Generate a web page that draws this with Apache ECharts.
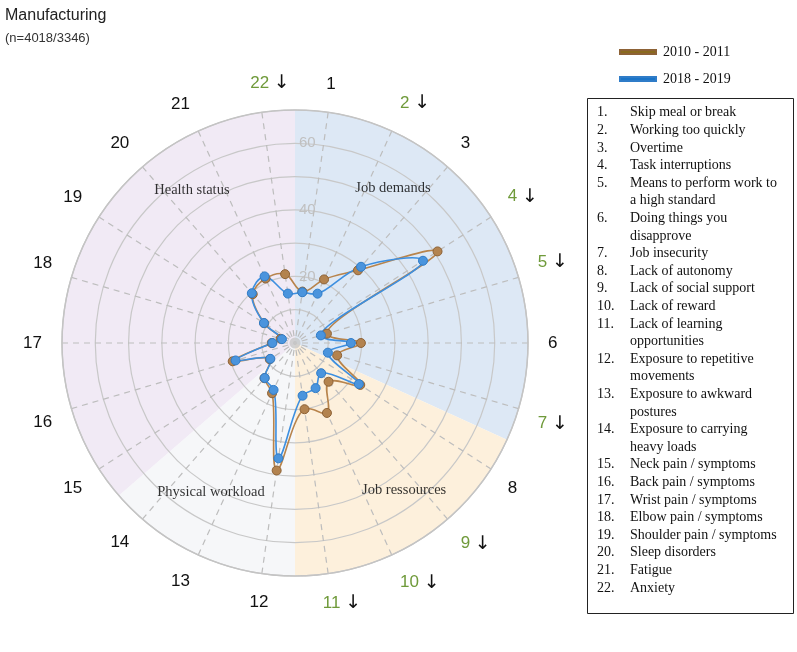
<!DOCTYPE html>
<html>
<head>
<meta charset="utf-8">
<script src="https://cdn.jsdelivr.net/npm/echarts@6/dist/echarts.min.js"></script>
<style>
html, body { margin: 0; padding: 0; background: #fff; }
#chart { width: 797px; height: 652px; }
</style>
</head>
<body>
<div id="chart"></div>
<script>
// axis categories (numbered items, clockwise from the top)
const categories = ['1', '2', '3', '4', '5', '6', '7', '8', '9', '10', '11',
  '12', '13', '14', '15', '16', '17', '18', '19', '20', '21', '22']
// items flagged with a significant decrease (green number + arrow)
const decreased = ['2', '4', '5', '7', '9', '10', '11', '22']
const itemNames = [
  'Skip meal or break',
  'Working too quickly',
  'Overtime',
  'Task interruptions',
  'Means to perform work to\na high standard',
  'Doing things you\ndisapprove',
  'Job insecurity',
  'Lack of autonomy',
  'Lack of social support',
  'Lack of reward',
  'Lack of learning\nopportunities',
  'Exposure to repetitive\nmovements',
  'Exposure to awkward\npostures',
  'Exposure to carrying\nheavy loads',
  'Neck pain / symptoms',
  'Back pain / symptoms',
  'Wrist pain / symptoms',
  'Elbow pain / symptoms',
  'Shoulder pain / symptoms',
  'Sleep disorders',
  'Fatigue',
  'Anxiety'
]
const groups = ['Job demands', 'Job ressources', 'Physical workload', 'Health status']
const groupSizes = [7, 4, 3, 8]
// prevalence (%)
const values2010 = [15.6, 21.0, 28.9, 50.9, 10.0, 19.8, 13.2, 23.3, 15.4, 23.1, 20.1,
  38.7, 16.6, 14.0, 9.0, 19.5, 7.0, 4.5, 11.0, 19.4, 21.3, 20.9]
const values2018 = [15.4, 16.3, 30.3, 45.7, 8.1, 16.8, 10.3, 22.8, 12.0, 14.9, 16.0,
  35.0, 15.5, 13.9, 8.8, 18.6, 6.8, 4.1, 11.1, 19.8, 22.0, 15.0]
const radiusLabels = [20, 40, 60]

// layout
const CENTER = [295, 343]
const RADIUS = 233
const STEP = 360 / categories.length
const sectorColors = ['#dde8f5', '#fdf0dc', '#f6f7f9', '#f1eaf5']
// where the group names sit: [radius value, angle in degrees clockwise from top]
const groupLabelPos = [[55.1, 32.3], [55.0, 143.4], [51.4, 209.4], [55.4, 326.0]]

const chart = echarts.init(document.getElementById('chart'))

function toPolarData(vals) {
  return vals.map((v, i) => [v, i])
}

function angleLabel(v) {
  const i = Math.round(v)
  if (i < 0 || i >= categories.length) return ''
  const c = categories[i]
  if (decreased.indexOf(c) < 0) return '{k|' + c + '}'
  const a = Math.abs(Math.cos((90 - STEP / 2 - i * STEP) * Math.PI / 180))
  // centred labels get a hidden arrow on the left so the number stays on its spoke
  const pad = a < 0.3 ? '{h|\u2193 }' : ''
  return pad + '{g|' + c + ' }{a|\u2193}'
}

// centripetal catmull-rom tangents (control point before / after a point)
function tangent(prev, p, next, s) {
  const d1x = prev[0] - p[0], d1y = prev[1] - p[1]
  const d2x = next[0] - p[0], d2y = next[1] - p[1]
  const d1a = Math.pow(d1x * d1x + d1y * d1y, 0.25)
  const d2a = Math.pow(d2x * d2x + d2y * d2y, 0.25)
  const nx = (d2a * d2a * d1x - d1a * d1a * d2x) * s
  const ny = (d2a * d2a * d1y - d1a * d1a * d2y) * s
  const den1 = 3 * d2a * (d1a + d2a)
  const den2 = 3 * d1a * (d1a + d2a)
  return [
    [p[0] + (den1 ? nx / den1 : 0), p[1] + (den1 ? ny / den1 : 0)],
    [p[0] - (den2 ? nx / den2 : 0), p[1] - (den2 ? ny / den2 : 0)]
  ]
}

function closedSpline(pts, s) {
  const n = pts.length
  const tg = pts.map((p, i) => tangent(pts[(i - 1 + n) % n], p, pts[(i + 1) % n], s))
  let d = 'M' + pts[0][0] + ',' + pts[0][1]
  for (let i = 0; i < n; i++) {
    const j = (i + 1) % n
    d += 'C' + tg[i][1][0] + ',' + tg[i][1][1] + ' ' + tg[j][0][0] + ',' + tg[j][0][1] +
      ' ' + pts[j][0] + ',' + pts[j][1]
  }
  return d + 'Z'
}

// closed smooth outline through all points of one series
function outlineSeries(vals, color) {
  return {
    type: 'custom',
    coordinateSystem: 'polar',
    polarIndex: 1,
    silent: true,
    z: 2,
    data: toPolarData(vals),
    renderItem: function (params, api) {
      if (params.dataIndex !== 0) return
      const pts = vals.map((v, i) => api.coord([v, i]))
      return {
        type: 'path',
        shape: { pathData: closedSpline(pts, 1.1) },
        style: { fill: 'none', stroke: color, lineWidth: 1.6 }
      }
    }
  }
}

const numberCol = itemNames.map((n, i) => (i + 1) + '.' + '\n'.repeat(n.split('\n').length - 1)).join('\n')
const nameCol = itemNames.join('\n')

const options = {
  animation: false,
  title: {
    text: 'Manufacturing',
    subtext: '(n=4018/3346)',
    left: 0,
    top: 3,
    itemGap: 8,
    textStyle: { fontFamily: 'Liberation Sans', fontSize: 16, fontWeight: 'normal', color: '#222' },
    subtextStyle: { fontFamily: 'Liberation Sans', fontSize: 13, color: '#333' }
  },
  legend: {
    left: 614,
    top: 40,
    orient: 'vertical',
    icon: 'rect',
    itemWidth: 36,
    itemHeight: 4,
    itemGap: 13,
    textStyle: { fontFamily: 'Liberation Serif', fontSize: 14, color: '#111', padding: [0, 0, 0, 2] },
    data: [
      { name: '2010 - 2011', itemStyle: { color: '#8a6a1e' } },
      { name: '2018 - 2019', itemStyle: { color: '#1a74c8' } }
    ]
  },
  polar: [
    { center: CENTER, radius: RADIUS },
    { center: CENTER, radius: RADIUS }
  ],
  angleAxis: [
    {
      polarIndex: 0,
      type: 'value',
      min: 0,
      max: 360,
      startAngle: 90,
      clockwise: true,
      axisLine: { show: false },
      axisTick: { show: false },
      axisLabel: { show: false },
      splitLine: { show: false }
    },
    {
      polarIndex: 1,
      type: 'value',
      min: 0,
      max: categories.length,
      interval: 1,
      startAngle: 90 - STEP / 2,
      clockwise: true,
      axisLine: { lineStyle: { color: '#c4c4c4', width: 1.5 } },
      axisTick: { show: false },
      axisLabel: {
        margin: 20,
        formatter: angleLabel,
        rich: {
          k: { fontFamily: 'Liberation Sans', fontSize: 17, color: '#111' },
          g: { fontFamily: 'Liberation Sans', fontSize: 17, color: '#6f9a3a' },
          a: { fontFamily: 'DejaVu Sans', fontSize: 19, color: '#111' },
          h: { fontFamily: 'DejaVu Sans', fontSize: 19, color: 'rgba(0,0,0,0)' }
        }
      },
      splitLine: { lineStyle: { color: '#bdbdbd', width: 1.2, type: [6, 5] } }
    }
  ],
  radiusAxis: [
    {
      polarIndex: 0,
      min: 0,
      max: 70,
      interval: 10,
      axisLine: { show: false },
      axisTick: { show: false },
      axisLabel: {
        formatter: v => radiusLabels.indexOf(v) >= 0 ? String(v) : '',
        color: '#c0c0c0',
        fontFamily: 'Liberation Sans',
        fontSize: 15,
        margin: -4,
        align: 'left'
      },
      splitLine: { lineStyle: { color: '#c8c8c8', width: 1.2 } }
    },
    { polarIndex: 1, min: 0, max: 70, show: false }
  ],
  series: [
    {
      type: 'pie',
      center: CENTER,
      radius: [0, RADIUS],
      startAngle: 90,
      clockwise: true,
      silent: true,
      z: -5,
      label: { show: false },
      labelLine: { show: false },
      itemStyle: { borderWidth: 0 },
      data: groups.map((g, i) => ({ name: g, value: groupSizes[i], itemStyle: { color: sectorColors[i] } }))
    },
    {
      type: 'scatter',
      coordinateSystem: 'polar',
      polarIndex: 0,
      silent: true,
      symbolSize: 0,
      label: {
        show: true,
        position: 'inside',
        formatter: '{b}',
        fontFamily: 'Liberation Serif',
        fontSize: 14.5,
        color: '#000'
      },
      data: groups.map((g, i) => ({ name: g, value: groupLabelPos[i] }))
    },
    {
      type: 'scatter',
      coordinateSystem: 'polar',
      polarIndex: 0,
      silent: true,
      symbolSize: 11,
      itemStyle: { color: '#c8c8c8' },
      data: [[0, 0]]
    },
    outlineSeries(values2010, '#b8844c'),
    outlineSeries(values2018, '#3d8fe0'),
    {
      name: '2010 - 2011',
      type: 'line',
      coordinateSystem: 'polar',
      polarIndex: 1,
      symbol: 'circle',
      symbolSize: 9,
      z: 3,
      lineStyle: { opacity: 0 },
      itemStyle: { color: '#b3834f', borderColor: '#8d6236', borderWidth: 1 },
      data: toPolarData(values2010)
    },
    {
      name: '2018 - 2019',
      type: 'line',
      coordinateSystem: 'polar',
      polarIndex: 1,
      symbol: 'circle',
      symbolSize: 9,
      z: 4,
      lineStyle: { opacity: 0 },
      itemStyle: { color: '#4a94dd', borderColor: '#2f7cc8', borderWidth: 1 },
      data: toPolarData(values2018)
    }
  ],
  graphic: [
    {
      type: 'rect',
      shape: { x: 587.5, y: 98.5, width: 206, height: 515 },
      style: { fill: '#fff', stroke: '#222', lineWidth: 1 }
    },
    {
      type: 'text',
      x: 597,
      y: 104,
      style: { text: numberCol, font: '14px "Liberation Serif"', lineHeight: 17.6, fill: '#111' }
    },
    {
      type: 'text',
      x: 630,
      y: 104,
      style: { text: nameCol, font: '14px "Liberation Serif"', lineHeight: 17.6, fill: '#111' }
    }
  ]
}

chart.setOption(options)
</script>
</body>
</html>
